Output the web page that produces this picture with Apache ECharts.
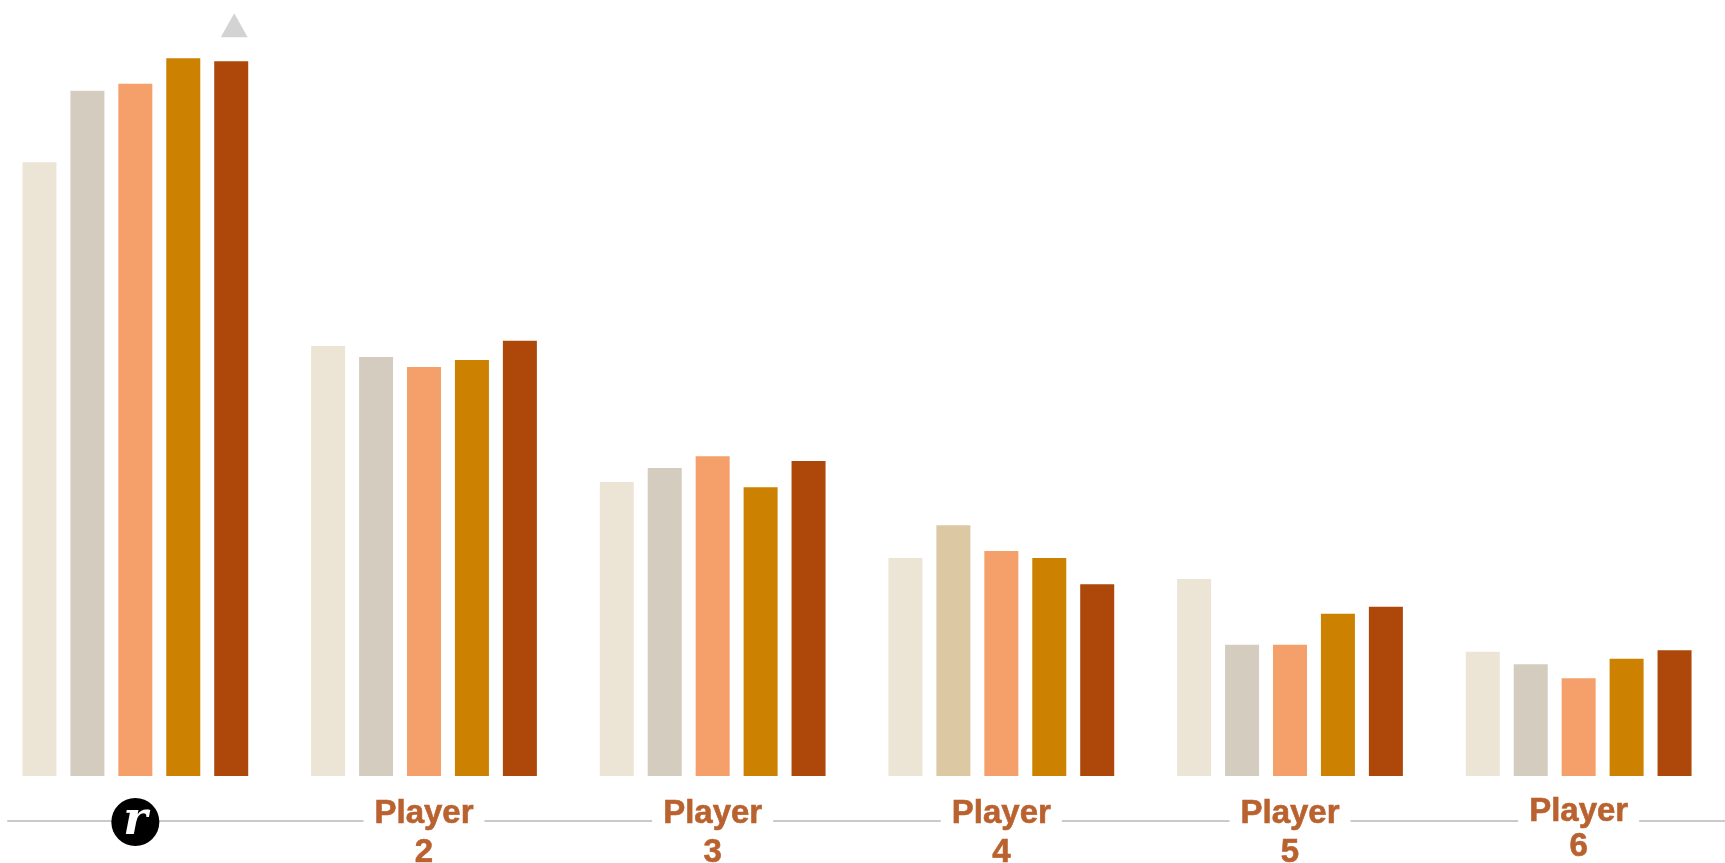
<!DOCTYPE html>
<html>
<head>
<meta charset="utf-8">
<title>Player comparison</title>
<script src="https://cdn.jsdelivr.net/npm/echarts@6/dist/echarts.min.js"></script>
<style>
  html, body { margin: 0; padding: 0; background: #ffffff; }
  #chart { width: 1725px; height: 863px; }
</style>
</head>
<body>
<div id="chart"></div>
<script>
// Groups along the x axis (the first one is shown as the round "r" badge)
const categories = ['r', 'Player 2', 'Player 3', 'Player 4', 'Player 5', 'Player 6'];

// Five bars per group
const setNames = ['Set 1', 'Set 2', 'Set 3', 'Set 4', 'Set 5'];
const set1 = [79.1, 55.4, 37.9, 28.1, 25.4, 16.0];
const set2 = [88.3, 54.0, 39.7, 32.3, 16.9, 14.4];
const set3 = [89.2, 52.7, 41.2, 29.0, 16.9, 12.6];
const set4 = [92.5, 53.6, 37.2, 28.1, 20.9, 15.1];
const set5 = [92.1, 56.1, 40.6, 24.7, 21.8, 16.2];
const seriesValues = [set1, set2, set3, set4, set5];

const setColors = ['#ece5d5', '#d4cdbf', '#f5a06a', '#cc8100', '#ad470a'];
const highlightColor = '#dcc9a3';   // emphasised bar in the Player 4 group
const highlight = { set: 1, group: 3 };

const chart = echarts.init(document.getElementById('chart'), null, { renderer: 'canvas' });

const series = seriesValues.map((vals, s) => {
  const item = {
    name: setNames[s],
    type: 'bar',
    xAxisIndex: 0,
    yAxisIndex: 0,
    barWidth: 34,
    barGap: '41%',
    itemStyle: { color: setColors[s] },
    emphasis: { disabled: true },
    data: vals.map((v, g) => (s === highlight.set && g === highlight.group)
      ? { value: v, itemStyle: { color: highlightColor } }
      : v)
  };
  if (s === 4) {
    // small grey arrow above the tallest group's last bar
    item.markPoint = {
      symbol: 'triangle',
      symbolSize: [27, 24],
      symbolOffset: [3, -36],
      itemStyle: { color: '#d3d3d3' },
      label: { show: false },
      emphasis: { disabled: true },
      data: [{ coord: [0, vals[0]] }]
    };
  }
  return item;
});

const playerText = {
  fontFamily: '"Liberation Sans", Arial, sans-serif',
  fontWeight: 'bold',
  fontSize: 33,
  lineHeight: 39,
  color: '#b9622f',
  textBorderColor: '#b9622f',
  textBorderWidth: 0.6,
  backgroundColor: '#ffffff',
  padding: [0, 11],
  align: 'center'
};

chart.setOption({
  backgroundColor: '#ffffff',
  animation: false,
  grid: [
    { left: -9, right: 2, top: 0, bottom: 87, containLabel: false, outerBoundsMode: 'none' },
    { left: 8, right: 0, bottom: 42, height: 1, containLabel: false, outerBoundsMode: 'none' }
  ],
  xAxis: [
    {
      type: 'category',
      gridIndex: 0,
      z: 5,
      data: categories,
      axisLine: { show: false },
      axisTick: { show: false },
      axisLabel: {
        interval: 0,
        margin: 18,
        formatter: function (value, idx) {
          if (idx === 0) return '{logo|' + value + '}';
          const parts = value.split(' ');
          const tok = idx === categories.length - 1 ? 'q' : 'p';
          return '{' + tok + '|' + parts[0] + '}\n{' + tok + '|' + parts[1] + '}';
        },
        rich: {
          p: playerText,
          q: Object.assign({}, playerText, { lineHeight: 35 }),
          logo: {
            fontFamily: '"DejaVu Serif", "Liberation Serif", serif',
            fontStyle: 'italic',
            fontWeight: 'bold',
            fontSize: 46,
            color: '#ffffff',
            backgroundColor: '#000000',
            width: 48,
            height: 48,
            lineHeight: 56,
            borderRadius: 24,
            align: 'center'
          }
        }
      }
    },
    {
      type: 'value',
      gridIndex: 1,
      z: 1,
      min: 0,
      max: 1,
      axisLine: { show: true, lineStyle: { color: '#cacaca', width: 2 } },
      axisTick: { show: false },
      axisLabel: { show: false },
      splitLine: { show: false }
    }
  ],
  yAxis: [
    { type: 'value', gridIndex: 0, min: 0, max: 100, show: false, splitLine: { show: false } },
    { type: 'value', gridIndex: 1, show: false, splitLine: { show: false } }
  ],
  series: series
});
</script>
</body>
</html>
